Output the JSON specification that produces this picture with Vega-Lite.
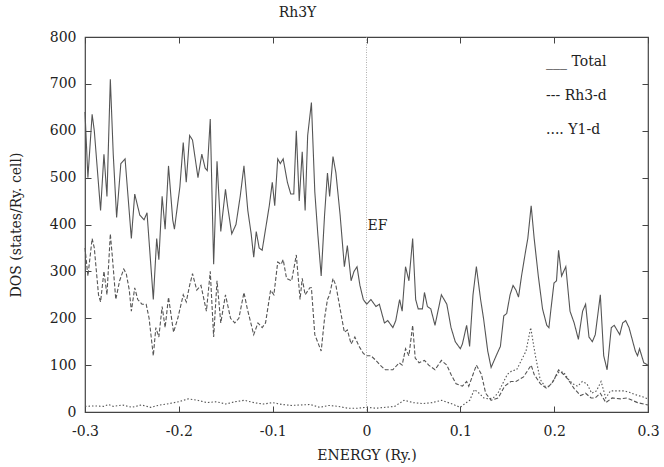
{
  "$schema": "https://vega.github.io/schema/vega-lite/v6.json",
  "width": 563,
  "height": 375,
  "autosize": "none",
  "padding": {"left": 85, "top": 37, "right": 16, "bottom": 55},
  "title": {"text": "Rh3Y", "anchor": "middle", "dx": -69, "offset": 10, "fontSize": 14, "font": "DejaVu Serif", "fontWeight": "normal", "color": "#222"},
  "config": {
    "font": "DejaVu Serif",
    "view": {"stroke": "#444", "strokeWidth": 1.2},
    "axis": {"domain": false, "grid": false, "tickColor": "#444", "tickSize": -6, "tickWidth": 1, "labelFont": "DejaVu Serif", "labelFontSize": 14, "labelColor": "#222", "titleFont": "DejaVu Serif", "titleFontSize": 14, "titleFontWeight": "normal", "titleColor": "#222"}
  },
  "resolve": {"axis": {"x": "independent", "y": "independent"}},
  "layer": [
    {
      "data": {"values": [
        {"e":-0.3,"v":640,"s":"Total"},{"e":-0.2969,"v":500,"s":"Total"},{"e":-0.2924,"v":635,"s":"Total"},{"e":-0.2901,"v":600,"s":"Total"},{"e":-0.2834,"v":430,"s":"Total"},{"e":-0.2798,"v":550,"s":"Total"},{"e":-0.2766,"v":460,"s":"Total"},{"e":-0.273,"v":710,"s":"Total"},{"e":-0.2699,"v":550,"s":"Total"},{"e":-0.2663,"v":415,"s":"Total"},{"e":-0.2618,"v":530,"s":"Total"},{"e":-0.2573,"v":540,"s":"Total"},{"e":-0.2506,"v":370,"s":"Total"},{"e":-0.247,"v":465,"s":"Total"},{"e":-0.2416,"v":420,"s":"Total"},{"e":-0.2371,"v":410,"s":"Total"},{"e":-0.2339,"v":425,"s":"Total"},{"e":-0.2272,"v":240,"s":"Total"},{"e":-0.2236,"v":370,"s":"Total"},{"e":-0.2213,"v":325,"s":"Total"},{"e":-0.2178,"v":460,"s":"Total"},{"e":-0.2146,"v":390,"s":"Total"},{"e":-0.211,"v":525,"s":"Total"},{"e":-0.2065,"v":410,"s":"Total"},{"e":-0.2047,"v":390,"s":"Total"},{"e":-0.1989,"v":480,"s":"Total"},{"e":-0.1953,"v":575,"s":"Total"},{"e":-0.1921,"v":490,"s":"Total"},{"e":-0.1885,"v":590,"s":"Total"},{"e":-0.1854,"v":580,"s":"Total"},{"e":-0.1796,"v":500,"s":"Total"},{"e":-0.1755,"v":550,"s":"Total"},{"e":-0.1719,"v":520,"s":"Total"},{"e":-0.1697,"v":515,"s":"Total"},{"e":-0.1665,"v":625,"s":"Total"},{"e":-0.1629,"v":315,"s":"Total"},{"e":-0.1593,"v":535,"s":"Total"},{"e":-0.1553,"v":385,"s":"Total"},{"e":-0.1503,"v":475,"s":"Total"},{"e":-0.1481,"v":440,"s":"Total"},{"e":-0.1436,"v":380,"s":"Total"},{"e":-0.1391,"v":400,"s":"Total"},{"e":-0.1346,"v":460,"s":"Total"},{"e":-0.1306,"v":525,"s":"Total"},{"e":-0.1265,"v":430,"s":"Total"},{"e":-0.1229,"v":380,"s":"Total"},{"e":-0.1202,"v":330,"s":"Total"},{"e":-0.1175,"v":385,"s":"Total"},{"e":-0.1144,"v":350,"s":"Total"},{"e":-0.1112,"v":345,"s":"Total"},{"e":-0.1076,"v":390,"s":"Total"},{"e":-0.1036,"v":440,"s":"Total"},{"e":-0.1004,"v":490,"s":"Total"},{"e":-0.0978,"v":440,"s":"Total"},{"e":-0.0946,"v":540,"s":"Total"},{"e":-0.0919,"v":530,"s":"Total"},{"e":-0.0888,"v":540,"s":"Total"},{"e":-0.0843,"v":490,"s":"Total"},{"e":-0.0807,"v":465,"s":"Total"},{"e":-0.0775,"v":465,"s":"Total"},{"e":-0.0748,"v":600,"s":"Total"},{"e":-0.0717,"v":450,"s":"Total"},{"e":-0.0685,"v":555,"s":"Total"},{"e":-0.0654,"v":430,"s":"Total"},{"e":-0.0627,"v":590,"s":"Total"},{"e":-0.0587,"v":660,"s":"Total"},{"e":-0.0551,"v":470,"s":"Total"},{"e":-0.0519,"v":380,"s":"Total"},{"e":-0.0483,"v":290,"s":"Total"},{"e":-0.0447,"v":420,"s":"Total"},{"e":-0.0416,"v":510,"s":"Total"},{"e":-0.0393,"v":460,"s":"Total"},{"e":-0.0357,"v":545,"s":"Total"},{"e":-0.0326,"v":510,"s":"Total"},{"e":-0.0281,"v":420,"s":"Total"},{"e":-0.0236,"v":310,"s":"Total"},{"e":-0.0204,"v":355,"s":"Total"},{"e":-0.0164,"v":280,"s":"Total"},{"e":-0.0133,"v":300,"s":"Total"},{"e":-0.0101,"v":310,"s":"Total"},{"e":-0.007,"v":270,"s":"Total"},{"e":-0.0034,"v":240,"s":"Total"},{"e":0.0002,"v":230,"s":"Total"},{"e":0.0047,"v":240,"s":"Total"},{"e":0.0101,"v":225,"s":"Total"},{"e":0.0137,"v":230,"s":"Total"},{"e":0.0191,"v":190,"s":"Total"},{"e":0.0227,"v":195,"s":"Total"},{"e":0.0281,"v":180,"s":"Total"},{"e":0.0312,"v":195,"s":"Total"},{"e":0.0353,"v":240,"s":"Total"},{"e":0.038,"v":215,"s":"Total"},{"e":0.0416,"v":310,"s":"Total"},{"e":0.0452,"v":280,"s":"Total"},{"e":0.0492,"v":370,"s":"Total"},{"e":0.0524,"v":240,"s":"Total"},{"e":0.0551,"v":220,"s":"Total"},{"e":0.0596,"v":220,"s":"Total"},{"e":0.0618,"v":255,"s":"Total"},{"e":0.0649,"v":225,"s":"Total"},{"e":0.0685,"v":220,"s":"Total"},{"e":0.073,"v":185,"s":"Total"},{"e":0.0798,"v":250,"s":"Total"},{"e":0.0856,"v":230,"s":"Total"},{"e":0.0901,"v":180,"s":"Total"},{"e":0.0946,"v":150,"s":"Total"},{"e":0.1,"v":135,"s":"Total"},{"e":0.1022,"v":145,"s":"Total"},{"e":0.1067,"v":185,"s":"Total"},{"e":0.1099,"v":140,"s":"Total"},{"e":0.1135,"v":250,"s":"Total"},{"e":0.1171,"v":310,"s":"Total"},{"e":0.1216,"v":240,"s":"Total"},{"e":0.1247,"v":200,"s":"Total"},{"e":0.1292,"v":130,"s":"Total"},{"e":0.1328,"v":95,"s":"Total"},{"e":0.1382,"v":120,"s":"Total"},{"e":0.1427,"v":140,"s":"Total"},{"e":0.1463,"v":205,"s":"Total"},{"e":0.1494,"v":210,"s":"Total"},{"e":0.153,"v":250,"s":"Total"},{"e":0.1562,"v":270,"s":"Total"},{"e":0.1593,"v":260,"s":"Total"},{"e":0.162,"v":245,"s":"Total"},{"e":0.1652,"v":290,"s":"Total"},{"e":0.1697,"v":345,"s":"Total"},{"e":0.1719,"v":370,"s":"Total"},{"e":0.1755,"v":440,"s":"Total"},{"e":0.1787,"v":370,"s":"Total"},{"e":0.1831,"v":290,"s":"Total"},{"e":0.1876,"v":220,"s":"Total"},{"e":0.1921,"v":185,"s":"Total"},{"e":0.1944,"v":180,"s":"Total"},{"e":0.1966,"v":220,"s":"Total"},{"e":0.1998,"v":275,"s":"Total"},{"e":0.2025,"v":280,"s":"Total"},{"e":0.2047,"v":345,"s":"Total"},{"e":0.2079,"v":290,"s":"Total"},{"e":0.2124,"v":310,"s":"Total"},{"e":0.2169,"v":215,"s":"Total"},{"e":0.2213,"v":190,"s":"Total"},{"e":0.2258,"v":155,"s":"Total"},{"e":0.2303,"v":215,"s":"Total"},{"e":0.2335,"v":230,"s":"Total"},{"e":0.2371,"v":160,"s":"Total"},{"e":0.2407,"v":150,"s":"Total"},{"e":0.2438,"v":165,"s":"Total"},{"e":0.2492,"v":250,"s":"Total"},{"e":0.2528,"v":120,"s":"Total"},{"e":0.2564,"v":90,"s":"Total"},{"e":0.2609,"v":180,"s":"Total"},{"e":0.264,"v":185,"s":"Total"},{"e":0.2699,"v":165,"s":"Total"},{"e":0.273,"v":190,"s":"Total"},{"e":0.2762,"v":195,"s":"Total"},{"e":0.2798,"v":180,"s":"Total"},{"e":0.2865,"v":130,"s":"Total"},{"e":0.2888,"v":120,"s":"Total"},{"e":0.291,"v":135,"s":"Total"},{"e":0.2955,"v":105,"s":"Total"},{"e":0.3,"v":100,"s":"Total"},
        {"e":-0.3,"v":350,"s":"Rh3-d"},{"e":-0.2969,"v":290,"s":"Rh3-d"},{"e":-0.2924,"v":370,"s":"Rh3-d"},{"e":-0.2901,"v":350,"s":"Rh3-d"},{"e":-0.2856,"v":250,"s":"Rh3-d"},{"e":-0.2834,"v":235,"s":"Rh3-d"},{"e":-0.2798,"v":300,"s":"Rh3-d"},{"e":-0.2766,"v":250,"s":"Rh3-d"},{"e":-0.273,"v":380,"s":"Rh3-d"},{"e":-0.2708,"v":330,"s":"Rh3-d"},{"e":-0.2672,"v":240,"s":"Rh3-d"},{"e":-0.2631,"v":280,"s":"Rh3-d"},{"e":-0.2587,"v":305,"s":"Rh3-d"},{"e":-0.256,"v":295,"s":"Rh3-d"},{"e":-0.2528,"v":260,"s":"Rh3-d"},{"e":-0.2506,"v":215,"s":"Rh3-d"},{"e":-0.247,"v":265,"s":"Rh3-d"},{"e":-0.2438,"v":240,"s":"Rh3-d"},{"e":-0.2393,"v":230,"s":"Rh3-d"},{"e":-0.2348,"v":230,"s":"Rh3-d"},{"e":-0.2317,"v":200,"s":"Rh3-d"},{"e":-0.2272,"v":120,"s":"Rh3-d"},{"e":-0.2245,"v":180,"s":"Rh3-d"},{"e":-0.2213,"v":160,"s":"Rh3-d"},{"e":-0.2178,"v":225,"s":"Rh3-d"},{"e":-0.2146,"v":180,"s":"Rh3-d"},{"e":-0.211,"v":245,"s":"Rh3-d"},{"e":-0.2056,"v":170,"s":"Rh3-d"},{"e":-0.2011,"v":200,"s":"Rh3-d"},{"e":-0.1953,"v":250,"s":"Rh3-d"},{"e":-0.1921,"v":235,"s":"Rh3-d"},{"e":-0.1885,"v":270,"s":"Rh3-d"},{"e":-0.1854,"v":295,"s":"Rh3-d"},{"e":-0.1809,"v":260,"s":"Rh3-d"},{"e":-0.1764,"v":270,"s":"Rh3-d"},{"e":-0.1706,"v":215,"s":"Rh3-d"},{"e":-0.1665,"v":300,"s":"Rh3-d"},{"e":-0.1629,"v":160,"s":"Rh3-d"},{"e":-0.1593,"v":280,"s":"Rh3-d"},{"e":-0.1553,"v":190,"s":"Rh3-d"},{"e":-0.1503,"v":250,"s":"Rh3-d"},{"e":-0.1449,"v":200,"s":"Rh3-d"},{"e":-0.1404,"v":190,"s":"Rh3-d"},{"e":-0.136,"v":200,"s":"Rh3-d"},{"e":-0.1306,"v":255,"s":"Rh3-d"},{"e":-0.127,"v":220,"s":"Rh3-d"},{"e":-0.1202,"v":165,"s":"Rh3-d"},{"e":-0.1157,"v":190,"s":"Rh3-d"},{"e":-0.1112,"v":180,"s":"Rh3-d"},{"e":-0.1076,"v":190,"s":"Rh3-d"},{"e":-0.1022,"v":260,"s":"Rh3-d"},{"e":-0.0987,"v":250,"s":"Rh3-d"},{"e":-0.0946,"v":320,"s":"Rh3-d"},{"e":-0.091,"v":315,"s":"Rh3-d"},{"e":-0.0888,"v":325,"s":"Rh3-d"},{"e":-0.0852,"v":285,"s":"Rh3-d"},{"e":-0.0798,"v":280,"s":"Rh3-d"},{"e":-0.0748,"v":335,"s":"Rh3-d"},{"e":-0.0708,"v":240,"s":"Rh3-d"},{"e":-0.0685,"v":285,"s":"Rh3-d"},{"e":-0.0654,"v":250,"s":"Rh3-d"},{"e":-0.0604,"v":265,"s":"Rh3-d"},{"e":-0.0587,"v":265,"s":"Rh3-d"},{"e":-0.0551,"v":165,"s":"Rh3-d"},{"e":-0.0483,"v":130,"s":"Rh3-d"},{"e":-0.0447,"v":200,"s":"Rh3-d"},{"e":-0.0416,"v":240,"s":"Rh3-d"},{"e":-0.0393,"v":250,"s":"Rh3-d"},{"e":-0.0357,"v":285,"s":"Rh3-d"},{"e":-0.0326,"v":270,"s":"Rh3-d"},{"e":-0.0281,"v":220,"s":"Rh3-d"},{"e":-0.0236,"v":170,"s":"Rh3-d"},{"e":-0.0204,"v":175,"s":"Rh3-d"},{"e":-0.0164,"v":145,"s":"Rh3-d"},{"e":-0.0124,"v":160,"s":"Rh3-d"},{"e":-0.0079,"v":140,"s":"Rh3-d"},{"e":-0.0034,"v":125,"s":"Rh3-d"},{"e":0.0002,"v":120,"s":"Rh3-d"},{"e":0.0047,"v":120,"s":"Rh3-d"},{"e":0.0101,"v":110,"s":"Rh3-d"},{"e":0.0146,"v":100,"s":"Rh3-d"},{"e":0.02,"v":90,"s":"Rh3-d"},{"e":0.0281,"v":90,"s":"Rh3-d"},{"e":0.0348,"v":105,"s":"Rh3-d"},{"e":0.038,"v":100,"s":"Rh3-d"},{"e":0.0416,"v":135,"s":"Rh3-d"},{"e":0.0452,"v":120,"s":"Rh3-d"},{"e":0.0492,"v":185,"s":"Rh3-d"},{"e":0.0519,"v":115,"s":"Rh3-d"},{"e":0.056,"v":105,"s":"Rh3-d"},{"e":0.0618,"v":110,"s":"Rh3-d"},{"e":0.0663,"v":100,"s":"Rh3-d"},{"e":0.073,"v":90,"s":"Rh3-d"},{"e":0.0798,"v":110,"s":"Rh3-d"},{"e":0.0856,"v":100,"s":"Rh3-d"},{"e":0.0901,"v":80,"s":"Rh3-d"},{"e":0.0955,"v":60,"s":"Rh3-d"},{"e":0.1022,"v":55,"s":"Rh3-d"},{"e":0.1067,"v":65,"s":"Rh3-d"},{"e":0.109,"v":55,"s":"Rh3-d"},{"e":0.1135,"v":80,"s":"Rh3-d"},{"e":0.1171,"v":100,"s":"Rh3-d"},{"e":0.1225,"v":80,"s":"Rh3-d"},{"e":0.127,"v":40,"s":"Rh3-d"},{"e":0.1328,"v":25,"s":"Rh3-d"},{"e":0.1404,"v":30,"s":"Rh3-d"},{"e":0.1472,"v":55,"s":"Rh3-d"},{"e":0.1539,"v":65,"s":"Rh3-d"},{"e":0.1593,"v":65,"s":"Rh3-d"},{"e":0.1674,"v":75,"s":"Rh3-d"},{"e":0.1755,"v":100,"s":"Rh3-d"},{"e":0.1787,"v":80,"s":"Rh3-d"},{"e":0.1854,"v":60,"s":"Rh3-d"},{"e":0.1921,"v":50,"s":"Rh3-d"},{"e":0.1989,"v":65,"s":"Rh3-d"},{"e":0.2047,"v":90,"s":"Rh3-d"},{"e":0.2101,"v":80,"s":"Rh3-d"},{"e":0.2146,"v":70,"s":"Rh3-d"},{"e":0.2213,"v":50,"s":"Rh3-d"},{"e":0.2281,"v":35,"s":"Rh3-d"},{"e":0.2335,"v":40,"s":"Rh3-d"},{"e":0.2393,"v":30,"s":"Rh3-d"},{"e":0.2438,"v":30,"s":"Rh3-d"},{"e":0.2492,"v":40,"s":"Rh3-d"},{"e":0.2551,"v":20,"s":"Rh3-d"},{"e":0.2618,"v":30,"s":"Rh3-d"},{"e":0.2708,"v":28,"s":"Rh3-d"},{"e":0.2775,"v":30,"s":"Rh3-d"},{"e":0.2888,"v":20,"s":"Rh3-d"},{"e":0.3,"v":15,"s":"Rh3-d"},
        {"e":-0.3,"v":12,"s":"Y1-d"},{"e":-0.29,"v":13,"s":"Y1-d"},{"e":-0.28,"v":12,"s":"Y1-d"},{"e":-0.275,"v":16,"s":"Y1-d"},{"e":-0.27,"v":12,"s":"Y1-d"},{"e":-0.26,"v":15,"s":"Y1-d"},{"e":-0.25,"v":10,"s":"Y1-d"},{"e":-0.24,"v":15,"s":"Y1-d"},{"e":-0.23,"v":10,"s":"Y1-d"},{"e":-0.22,"v":15,"s":"Y1-d"},{"e":-0.21,"v":18,"s":"Y1-d"},{"e":-0.2,"v":22,"s":"Y1-d"},{"e":-0.19,"v":28,"s":"Y1-d"},{"e":-0.18,"v":25,"s":"Y1-d"},{"e":-0.17,"v":20,"s":"Y1-d"},{"e":-0.16,"v":22,"s":"Y1-d"},{"e":-0.15,"v":17,"s":"Y1-d"},{"e":-0.14,"v":22,"s":"Y1-d"},{"e":-0.13,"v":25,"s":"Y1-d"},{"e":-0.12,"v":20,"s":"Y1-d"},{"e":-0.11,"v":17,"s":"Y1-d"},{"e":-0.1,"v":20,"s":"Y1-d"},{"e":-0.09,"v":16,"s":"Y1-d"},{"e":-0.08,"v":14,"s":"Y1-d"},{"e":-0.07,"v":15,"s":"Y1-d"},{"e":-0.06,"v":16,"s":"Y1-d"},{"e":-0.05,"v":10,"s":"Y1-d"},{"e":-0.04,"v":14,"s":"Y1-d"},{"e":-0.03,"v":12,"s":"Y1-d"},{"e":-0.02,"v":8,"s":"Y1-d"},{"e":-0.01,"v":8,"s":"Y1-d"},{"e":0.0,"v":10,"s":"Y1-d"},{"e":0.01,"v":8,"s":"Y1-d"},{"e":0.02,"v":10,"s":"Y1-d"},{"e":0.03,"v":12,"s":"Y1-d"},{"e":0.04,"v":25,"s":"Y1-d"},{"e":0.05,"v":20,"s":"Y1-d"},{"e":0.06,"v":18,"s":"Y1-d"},{"e":0.07,"v":20,"s":"Y1-d"},{"e":0.08,"v":25,"s":"Y1-d"},{"e":0.09,"v":18,"s":"Y1-d"},{"e":0.1,"v":10,"s":"Y1-d"},{"e":0.105,"v":18,"s":"Y1-d"},{"e":0.11,"v":25,"s":"Y1-d"},{"e":0.115,"v":48,"s":"Y1-d"},{"e":0.12,"v":40,"s":"Y1-d"},{"e":0.125,"v":30,"s":"Y1-d"},{"e":0.13,"v":28,"s":"Y1-d"},{"e":0.135,"v":30,"s":"Y1-d"},{"e":0.14,"v":40,"s":"Y1-d"},{"e":0.145,"v":60,"s":"Y1-d"},{"e":0.15,"v":80,"s":"Y1-d"},{"e":0.155,"v":88,"s":"Y1-d"},{"e":0.16,"v":90,"s":"Y1-d"},{"e":0.165,"v":110,"s":"Y1-d"},{"e":0.17,"v":130,"s":"Y1-d"},{"e":0.175,"v":180,"s":"Y1-d"},{"e":0.18,"v":120,"s":"Y1-d"},{"e":0.185,"v":70,"s":"Y1-d"},{"e":0.19,"v":55,"s":"Y1-d"},{"e":0.195,"v":55,"s":"Y1-d"},{"e":0.2,"v":70,"s":"Y1-d"},{"e":0.205,"v":85,"s":"Y1-d"},{"e":0.21,"v":85,"s":"Y1-d"},{"e":0.215,"v":70,"s":"Y1-d"},{"e":0.22,"v":60,"s":"Y1-d"},{"e":0.225,"v":55,"s":"Y1-d"},{"e":0.23,"v":65,"s":"Y1-d"},{"e":0.235,"v":60,"s":"Y1-d"},{"e":0.24,"v":40,"s":"Y1-d"},{"e":0.245,"v":45,"s":"Y1-d"},{"e":0.25,"v":65,"s":"Y1-d"},{"e":0.255,"v":30,"s":"Y1-d"},{"e":0.26,"v":45,"s":"Y1-d"},{"e":0.265,"v":45,"s":"Y1-d"},{"e":0.27,"v":45,"s":"Y1-d"},{"e":0.275,"v":45,"s":"Y1-d"},{"e":0.28,"v":42,"s":"Y1-d"},{"e":0.285,"v":38,"s":"Y1-d"},{"e":0.29,"v":35,"s":"Y1-d"},{"e":0.295,"v":32,"s":"Y1-d"},{"e":0.3,"v":28,"s":"Y1-d"}
      ]},
      "mark": {"type": "line", "color": "#555", "strokeWidth": 1.1},
      "encoding": {
        "x": {"field": "e", "type": "quantitative", "scale": {"domain": [-0.3, 0.3], "nice": false, "zero": false},
              "axis": {"orient": "bottom", "title": "ENERGY (Ry.)", "values": [-0.3,-0.2,-0.1,0,0.1,0.2,0.3], "labelExpr": "datum.value == 0 ? '0' : (datum.value < 0 ? '-' : '') + format(abs(datum.value), '.1f')", "labelPadding": 18, "titlePadding": 10, "labelFlush": false}},
        "y": {"field": "v", "type": "quantitative", "scale": {"domain": [0, 800], "nice": false},
              "axis": {"orient": "left", "title": "DOS (states/Ry. cell)", "values": [0,100,200,300,400,500,600,700,800], "labelPadding": 15, "titlePadding": 26}},
        "strokeDash": {"field": "s", "type": "nominal", "scale": {"domain": ["Total", "Rh3-d", "Y1-d"], "range": [[1, 0], [4, 2], [1.5, 2]]}, "legend": null}
      }
    },
    {
      "data": {"values": [{"e": 0}]},
      "mark": {"type": "rule", "color": "#999", "strokeWidth": 0.8, "strokeDash": [1, 1.5]},
      "encoding": {"x": {"field": "e", "type": "quantitative", "axis": null}}
    },
    {
      "data": {"values": [{"e": 0.001, "v": 397, "label": "EF"}]},
      "mark": {"type": "text", "align": "left", "baseline": "middle", "font": "DejaVu Serif", "fontSize": 14, "color": "#222"},
      "encoding": {"x": {"field": "e", "type": "quantitative", "axis": null}, "y": {"field": "v", "type": "quantitative", "axis": null}, "text": {"field": "label"}}
    },
    {
      "data": {"values": [
        {"e": 0.1913, "v": 747, "label": "___ Total"},
        {"e": 0.1913, "v": 674, "label": "--- Rh3-d"},
        {"e": 0.1913, "v": 602, "label": ".... Y1-d"}
      ]},
      "mark": {"type": "text", "align": "left", "baseline": "middle", "font": "DejaVu Serif", "fontSize": 14, "color": "#222"},
      "encoding": {"x": {"field": "e", "type": "quantitative", "axis": null}, "y": {"field": "v", "type": "quantitative", "axis": null}, "text": {"field": "label"}}
    },
    {
      "data": {"values": [{"e": 0, "v": 0}]},
      "mark": {"type": "point", "opacity": 0},
      "encoding": {
        "x": {"field": "e", "type": "quantitative", "axis": {"orient": "top", "labels": false, "title": null, "values": [-0.3,-0.2,-0.1,0,0.1,0.2,0.3]}},
        "y": {"field": "v", "type": "quantitative", "axis": {"orient": "right", "labels": false, "title": null, "values": [0,100,200,300,400,500,600,700,800]}}
      }
    }
  ]
}
